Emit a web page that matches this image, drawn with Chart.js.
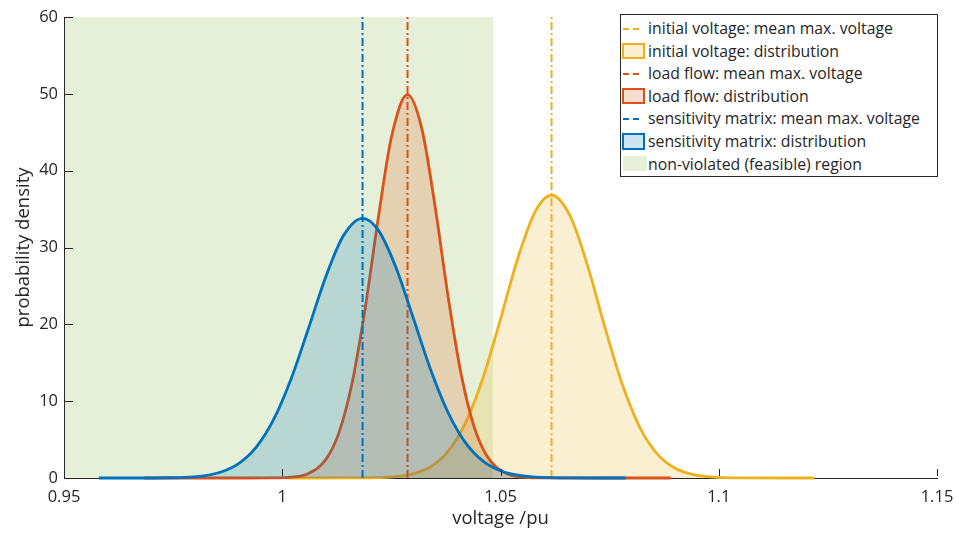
<!DOCTYPE html>
<html>
<head>
<meta charset="utf-8">
<script src="https://cdn.jsdelivr.net/npm/chart.js@4.4.0/dist/chart.umd.min.js"></script>
<style>
  body { margin: 0; background: #fff; }
  #wrap { position: relative; width: 959px; height: 535px; }
  #legend {
    position: absolute; left: 620px; top: 14px; width: 318px; height: 163px;
    box-sizing: border-box; border: 1px solid #262626; background: #fff;
    font-family: 'Open Sans', sans-serif; font-size: 15.8px; color: #262626;
    padding-top: 2px;
  }
  .row { position: relative; height: 22.6px; line-height: 22.6px; padding-left: 27px; white-space: nowrap; }
  .sw { position: absolute; box-sizing: border-box; }
</style>
</head>
<body>
<div id="wrap">
  <canvas id="chart" width="959" height="535"></canvas>
  <div id="legend"></div>
</div>
<script>
// axis ticks
const xTickValues = [0.95, 1, 1.05, 1.1, 1.15];
const xTickLabels = ['0.95', '1', '1.05', '1.1', '1.15'];
const yTickValues = [0, 10, 20, 30, 40, 50, 60];
const yTickLabels = ['0', '10', '20', '30', '40', '50', '60'];
const yLimits = [0, 60];

// initial voltage (yellow)
const initMean = 1.0617;
const initX = [1.0014, 1.018, 1.026, 1.030, 1.034, 1.038, 1.042, 1.046, 1.050, 1.054, 1.058, 1.0617,
  1.066, 1.070, 1.074, 1.078, 1.082, 1.086, 1.090, 1.094, 1.098, 1.106, 1.1219];
const initY = [0, 0.01, 0.17, 0.54, 1.46, 3.46, 7.19, 13.05, 20.69, 28.67, 34.74, 36.8,
  34.04, 27.54, 19.47, 12.03, 6.50, 3.07, 1.26, 0.46, 0.14, 0.01, 0];

// load flow (red)
const loadMean = 1.0287;
const loadX = [0.9684, 0.990, 0.998, 1.002, 1.006, 1.010, 1.013, 1.016, 1.019, 1.022, 1.025, 1.0287,
  1.032, 1.035, 1.038, 1.041, 1.044, 1.047, 1.051, 1.055, 1.059, 1.067, 1.089];
const loadY = [0, 0, 0.01, 0.10, 0.58, 2.42, 5.91, 12.36, 22.10, 33.83, 44.32, 49.9,
  45.41, 35.39, 23.60, 13.47, 6.58, 2.75, 0.67, 0.12, 0.02, 0, 0];

// sensitivity matrix (blue)
const sensMean = 1.0184;
const sensX = [0.958, 0.966, 0.974, 0.982, 0.986, 0.990, 0.994, 0.998, 1.002, 1.006, 1.010, 1.014, 1.0184,
  1.022, 1.026, 1.030, 1.034, 1.038, 1.042, 1.046, 1.050, 1.054, 1.058, 1.066, 1.0787];
const sensY = [0, 0, 0.03, 0.29, 0.78, 1.87, 3.98, 7.59, 12.86, 19.46, 26.24, 31.53, 33.8,
  32.26, 27.47, 20.85, 14.10, 8.51, 4.57, 2.19, 0.94, 0.36, 0.12, 0.01, 0];

// feasible region
const feasibleX = [0.95, 1.0483];
const feasibleY = [60, 60];

const yellow = '#EDB120', red = '#D95319', blue = '#0072BD';
const dashDot = [8, 3, 2, 3];

const toPts = (xs, ys) => xs.map((x, i) => ({ x: x, y: ys[i] }));

function meanLine(label, m, color, order) {
  return { label, kind: 'line', data: toPts([m, m], yLimits), borderColor: color, borderWidth: 2,
    borderDash: dashDot, pointRadius: 0, fill: false, order };
}
function dist(label, xs, ys, color, fillColor, order) {
  return { label, kind: 'box', data: toPts(xs, ys), borderColor: color, backgroundColor: fillColor,
    borderWidth: 2.8, pointRadius: 0, fill: 'origin', cubicInterpolationMode: 'monotone', clip: 4, order };
}

Chart.defaults.font.family = "'Open Sans', sans-serif";
Chart.defaults.color = '#262626';

// MATLAB style ticks pointing inward
const innerTicks = {
  id: 'innerTicks',
  afterDatasetsDraw(chart) {
    const { ctx, chartArea: a, scales: { x, y } } = chart;
    ctx.save();
    ctx.strokeStyle = '#262626';
    ctx.lineWidth = 1;
    ctx.beginPath();
    ctx.moveTo(a.left + 0.5, a.top);
    ctx.lineTo(a.left + 0.5, a.bottom);
    xTickValues.forEach(v => {
      const px = Math.round(x.getPixelForValue(v)) + 0.5;
      ctx.moveTo(px, a.bottom - 2);
      ctx.lineTo(px, a.bottom - 9);
    });
    yTickValues.forEach(v => {
      const py = Math.round(y.getPixelForValue(v)) + 0.5;
      ctx.moveTo(a.left, py);
      ctx.lineTo(a.left + 9, py);
    });
    ctx.stroke();
    ctx.restore();
  }
};

const tickFont = { size: 16.5 };
const titleFont = { size: 18.5 };

const chart = new Chart(document.getElementById('chart').getContext('2d'), {
  type: 'line',
  data: {
    datasets: [
      meanLine('initial voltage: mean max. voltage', initMean, yellow, 4),
      dist('initial voltage: distribution', initX, initY, yellow, 'rgba(237,177,32,0.2)', 5),
      meanLine('load flow: mean max. voltage', loadMean, red, 2),
      dist('load flow: distribution', loadX, loadY, red, 'rgba(217,83,25,0.2)', 3),
      meanLine('sensitivity matrix: mean max. voltage', sensMean, blue, 0),
      dist('sensitivity matrix: distribution', sensX, sensY, blue, 'rgba(0,114,189,0.2)', 1),
      { label: 'non-violated (feasible) region', kind: 'patch', data: toPts(feasibleX, feasibleY),
        borderColor: 'rgba(0,0,0,0)', borderWidth: 0, backgroundColor: 'rgb(230,240,217)',
        pointRadius: 0, fill: 'origin', order: 6 }
    ]
  },
  options: {
    responsive: false,
    animation: false,
    layout: { padding: { left: 0, top: 17, right: 22, bottom: 0 } },
    plugins: { legend: { display: false }, tooltip: { enabled: false } },
    scales: {
      x: {
        type: 'linear', min: 0.95, max: 1.15,
        afterBuildTicks: s => { s.ticks = xTickValues.map(v => ({ value: v })); },
        afterFit: s => { s.height = 57; s.paddingLeft = 0; s.paddingRight = 0; },
        ticks: { callback: (v, i) => xTickLabels[i], font: tickFont, padding: 9, maxRotation: 0, autoSkip: false },
        grid: { drawOnChartArea: false, drawTicks: false },
        border: { display: true, color: '#262626', width: 1 },
        title: { display: true, text: 'voltage /pu', font: titleFont, padding: { bottom: 5 } }
      },
      y: {
        min: 0, max: 60,
        afterBuildTicks: s => { s.ticks = yTickValues.map(v => ({ value: v })); },
        afterFit: s => { s.width = 64; s.paddingTop = 0; s.paddingBottom = 0; },
        ticks: { callback: (v, i) => yTickLabels[i], font: tickFont, padding: 6, autoSkip: false },
        grid: { drawOnChartArea: false, drawTicks: false },
        border: { display: true, color: '#262626', width: 1 },
        title: { display: true, text: 'probability density', font: titleFont, padding: { top: 13 } }
      }
    }
  },
  plugins: [innerTicks]
});

// legend built from the datasets, in their listed order
const legendEl = document.getElementById('legend');
chart.data.datasets.forEach(ds => {
  const row = document.createElement('div');
  row.className = 'row';
  const sw = document.createElement('span');
  sw.className = 'sw';
  if (ds.kind === 'line') {
    sw.style.cssText = 'left:2px;top:10.5px;width:17px;height:2px;background:repeating-linear-gradient(to right,' +
      ds.borderColor + ' 0 6px, transparent 6px 10px);';
  } else if (ds.kind === 'box') {
    sw.style.cssText = 'left:0.7px;top:3px;width:23px;height:16.6px;border:2.4px solid ' + ds.borderColor +
      ';background:' + ds.backgroundColor + ';';
  } else {
    sw.style.cssText = 'left:2px;top:3.5px;width:23.7px;height:15.3px;background:' + ds.backgroundColor + ';';
  }
  row.appendChild(sw);
  row.appendChild(document.createTextNode(ds.label));
  legendEl.appendChild(row);
});
</script>
</body>
</html>
